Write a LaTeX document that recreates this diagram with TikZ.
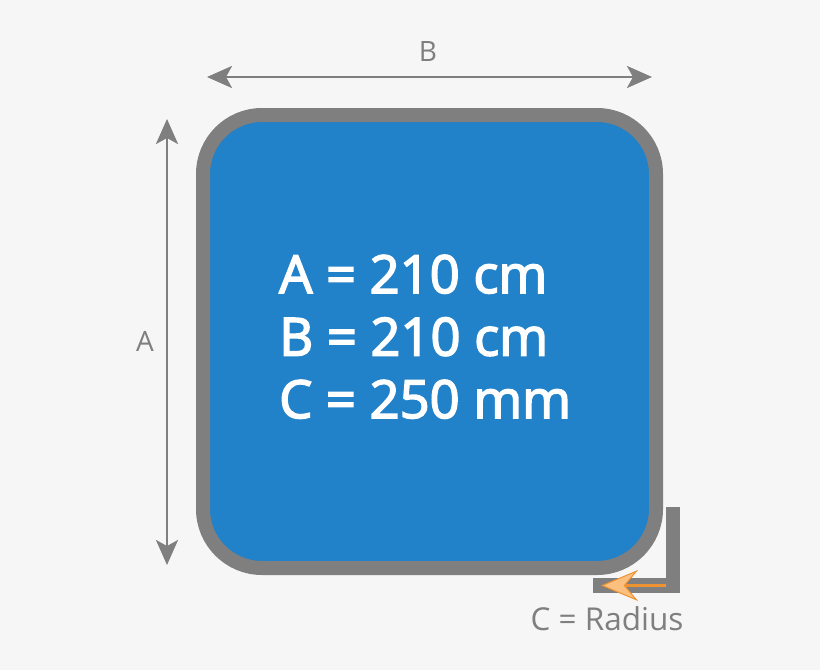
\documentclass[tikz,border=0pt]{standalone}
\usepackage{fontspec}
\setmainfont{Open Sans}
\newfontfamily\semifont[FakeBold=3]{Open Sans}
\usetikzlibrary{arrows.meta}
\definecolor{bgGray}{HTML}{F6F6F6}
\definecolor{rimGray}{HTML}{7F7F7F}
\definecolor{coverBlue}{HTML}{2181C9}
\definecolor{tipOrange}{HTML}{EF9232}
\definecolor{tipLight}{HTML}{FBC07F}
\tikzset{
	dimline/.style={line width=2.6pt, color=rimGray, {Stealth[length=25pt, width=22pt, inset=6pt]}-{Stealth[length=25pt, width=22pt, inset=6pt]}},
	dimlabel/.style={text=rimGray, font=\fontsize{28}{30}\selectfont, inner sep=0pt},
	sizeline/.style={text=white, font=\fontsize{52.5}{60}\semifont, inner sep=0pt, anchor=base west}
}
\begin{document}
\begin{tikzpicture}[x=1pt, y=-1pt]
			%%%%% START %%%%%
			
			\fill[bgGray] (0, 0) rectangle (820, 670);
			\useasboundingbox (0, 0) rectangle (820, 670);
			
			% cover with rim
			\draw[line width=14pt, color=rimGray, fill=coverBlue, rounded corners=59pt] (203, 115) rectangle (656, 568);
			
			% dimension B
			\coordinate (bLeft) at (207, 77);
			\coordinate (bRight) at (652, 77);
			\draw[dimline] (bLeft) -- (bRight);
			\node[dimlabel] (labB) at (428, 52) {B};
			
			% dimension A
			\coordinate (aTop) at (167, 119);
			\coordinate (aBot) at (167, 565);
			\draw[dimline] (aTop) -- (aBot);
			\node[dimlabel] (labA) at (145, 341) {A};
			
			% sizes
			\node[sizeline] (lineA) at (279, 293) {A = 210 cm};
			\node[sizeline] (lineB) at (279, 355.5) {B = 210 cm};
			\node[sizeline] (lineC) at (279, 418) {C = 250 mm};
			
			% radius marker
			\fill[rimGray] (666, 507) rectangle (680, 593);
			\fill[rimGray] (593, 578) rectangle (680, 593);
			\coordinate (cStart) at (666, 585.5);
			\coordinate (cTip) at (601, 585.5);
			\draw[line width=2.6pt, color=tipOrange, -{Stealth[length=37pt, width=31pt, inset=13pt, fill=tipLight, line width=1pt]}] (cStart) -- (cTip);
			\node[dimlabel, font=\fontsize{31.5}{33}\selectfont] (labC) at (607, 619) {C = Radius};
			
			%%%%% END %%%%%
		\end{tikzpicture}
\end{document}
